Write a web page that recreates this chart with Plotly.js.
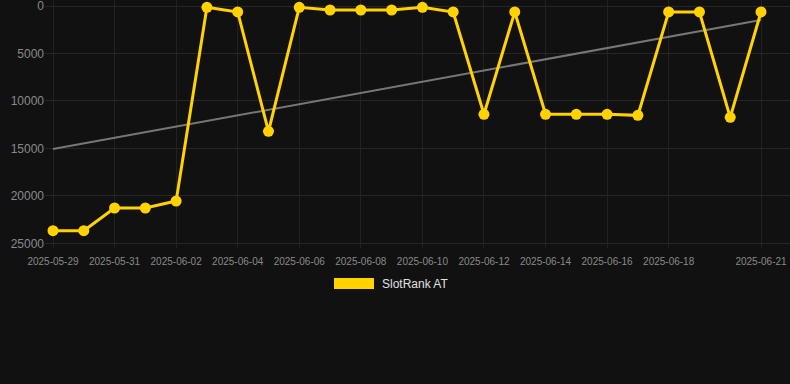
<!DOCTYPE html>
<html>
<head>
<meta charset="utf-8">
<script src="https://cdn.plot.ly/plotly-3.0.1.min.js"></script>
<style>
html,body{margin:0;padding:0;background:#111111;}
#chart{width:790px;height:384px;}
</style>
</head>
<body>
<div id="chart"></div>
<script>
const dates = ["2025-05-29","2025-05-30","2025-05-31","2025-06-01","2025-06-02","2025-06-03","2025-06-04","2025-06-05","2025-06-06","2025-06-07","2025-06-08","2025-06-09","2025-06-10","2025-06-11","2025-06-12","2025-06-13","2025-06-14","2025-06-15","2025-06-16","2025-06-17","2025-06-18","2025-06-19","2025-06-20","2025-06-21"];
const ranks = [23670,23670,21280,21280,20550,140,630,13200,140,420,420,420,140,630,11410,630,11410,11410,11410,11520,630,630,11730,630];
const trendDates = ["2025-05-29","2025-06-21"];
const trendValues = [15070,1475];
const tickDates = ["2025-05-29","2025-05-31","2025-06-02","2025-06-04","2025-06-06","2025-06-08","2025-06-10","2025-06-12","2025-06-14","2025-06-16","2025-06-18","2025-06-21"];
const yTicks = [0,5000,10000,15000,20000,25000];
const seriesName = "SlotRank AT";

const traces = [
  {x: trendDates, y: trendValues, type:'scatter', mode:'lines',
   line:{color:'#777777', width:2}, hoverinfo:'skip', showlegend:false},
  {x: dates, y: ranks, type:'scatter', mode:'lines+markers', name: seriesName,
   line:{color:'#FFD200', width:3}, marker:{color:'#FFD200', size:11},
   cliponaxis:false, showlegend:false}
];

// plot area: top y=0, bottom y=248 ; 0 at y=6, 25000 at y=243.3
const pxPerUnit = 237.3/25000;
const layout = {
  width:790, height:384,
  paper_bgcolor:'#111111', plot_bgcolor:'#111111',
  margin:{l:45, r:0, t:0, b:136},
  font:{family:'"Liberation Sans", Arial, sans-serif', color:'#888888'},
  xaxis:{type:'date', range:['2025-05-28 17:46','2025-06-21 22:36'],
    tickvals: tickDates, tickformat:'%Y-%m-%d',
    tickfont:{size:10, color:'#8a8a8a'}, ticklabelstandoff:6,
    ticklabeloverflow:'allow',
    showgrid:true, gridcolor:'#222222', gridwidth:1,
    zeroline:false, showline:false, ticks:''},
  yaxis:{range:[25000 + 4.7/pxPerUnit, -6/pxPerUnit], tickvals:yTicks, tickformat:'d',
    tickfont:{size:12, color:'#8a8a8a'}, ticklabeloverflow:'allow',
    showgrid:true, gridcolor:'#262626', gridwidth:1,
    zeroline:false, showline:false, ticks:''},
  shapes:[{type:'rect', xref:'paper', yref:'paper',
    x0:(334-45)/745, x1:(374-45)/745, y0:(248-289)/248, y1:(248-278)/248,
    fillcolor:'#FFD200', line:{width:0}}],
  annotations:[{xref:'paper', yref:'paper', x:(380-45)/745, y:(248-284)/248,
    xanchor:'left', yanchor:'middle', showarrow:false, text: seriesName,
    font:{size:12, color:'#e0e0e0'}}]
};

Plotly.newPlot('chart', traces, layout, {displayModeBar:false, staticPlot:true});
</script>
</body>
</html>
